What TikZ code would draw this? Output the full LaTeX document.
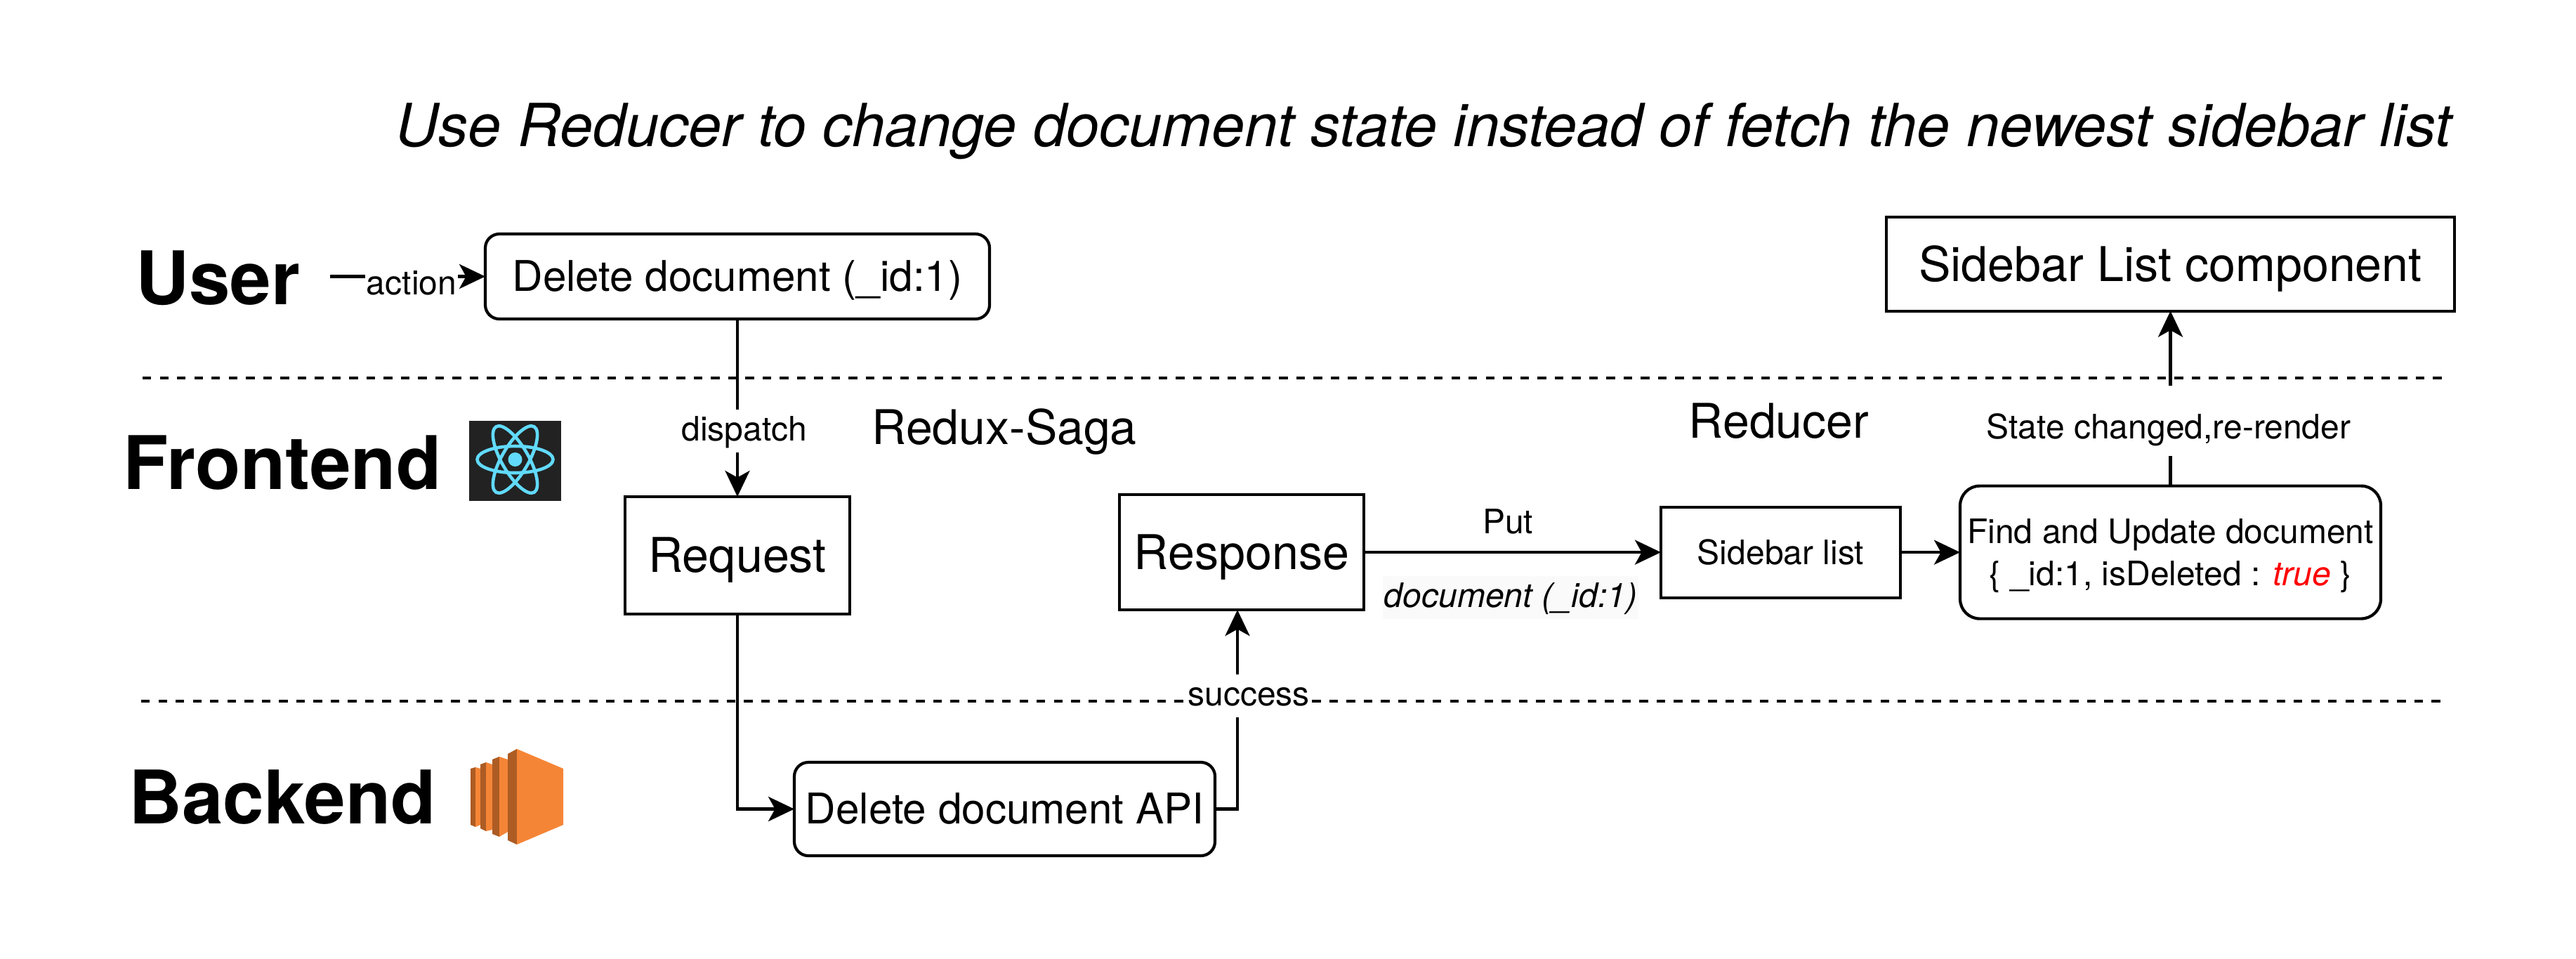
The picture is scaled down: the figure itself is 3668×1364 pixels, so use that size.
\documentclass[tikz,border=0pt]{standalone}
\usepackage{fontspec}
\setmainfont{TeX Gyre Heros}
\usepackage{xcolor}
\usetikzlibrary{arrows.meta,positioning,calc}
\definecolor{ReactBg}{HTML}{222222}
\definecolor{ReactFg}{HTML}{61DAFB}
\definecolor{AwsFace}{HTML}{F58536}
\definecolor{AwsSide}{HTML}{AD5C24}
\tikzset{
  box/.style={draw=black,line width=1.05pt,outer sep=0pt,inner sep=0pt,align=center,text depth=0pt,fill=white},
  rbox/.style={box,rounded corners=5pt},
  big/.style={font=\fontsize{17.05}{20}\selectfont,text height=12.2pt},
  mid/.style={font=\fontsize{15.05}{18}\selectfont,text height=10.7pt},
  small/.style={font=\fontsize{12}{15}\selectfont,text height=8.6pt},
  lab/.style={font=\fontsize{12}{14}\selectfont,fill=white,inner xsep=0.5pt,inner ysep=1.5pt,anchor=base,text height=9.5pt,text depth=2.75pt},
  layer/.style={font=\fontsize{26.3}{30}\selectfont\bfseries,anchor=base},
  head/.style={font=\fontsize{17}{20}\selectfont,anchor=base},
  sep/.style={line width=1pt,dash pattern=on 3.1pt off 3.03pt},
  arr/.style={-{Stealth[length=9.25pt,width=8.75pt,inset=2.4pt]},line width=1.05pt},
}

\begin{document}
\begin{tikzpicture}[x=0.25pt,y=-0.25pt]
  \useasboundingbox (0,0) rectangle (3668,1364);

  \node[font=\fontsize{21.15}{26}\selectfont\itshape, anchor=base] (title) at (2027,208)
    {Use Reducer to change document state instead of fetch the newest sidebar list};

  % --- layers ---
  \node[layer] (user) at (310,433) {User};
  \node[layer] (frontend) at (402,696) {Frontend};
  \node[layer] (backend) at (402,1172) {Backend};

  \coordinate (sepAL) at (203,538);
  \coordinate (sepAR) at (3478,538);
  \coordinate (sepBL) at (201,998);
  \coordinate (sepBR) at (3478,998);
  \draw[sep] (sepAL) -- (sepAR);
  \draw[sep] (sepBL) -- (sepBR);

  % react logo
  \fill[ReactBg] (668,599) rectangle (799,713);
  \foreach \ang in {0,60,120}
    \draw[ReactFg,line width=1.15pt,rotate around={\ang:(733.5,654)}] (733.5,654) ellipse [x radius=54, y radius=19];
  \fill[ReactFg] (733.5,654) circle [radius=10];

  % ec2 logo
  \fill[AwsSide] (670,1094) -- (677,1092) -- (677,1177) -- (670,1174) -- cycle;
  \fill[AwsFace] (677,1092) -- (684,1094) -- (684,1174) -- (677,1177) -- cycle;
  \fill[AwsSide] (684,1088) -- (692,1085) -- (692,1183) -- (684,1179) -- cycle;
  \fill[AwsFace] (692,1085) -- (701,1088) -- (701,1181) -- (692,1183) -- cycle;
  \fill[AwsSide] (701,1081) -- (711,1077) -- (711,1191) -- (701,1187) -- cycle;
  \fill[AwsFace] (711,1077) -- (723,1081) -- (723,1184) -- (711,1191) -- cycle;
  \fill[AwsSide] (723,1073) -- (736,1066) -- (736,1202) -- (723,1196) -- cycle;
  \fill[AwsFace] (736,1066) -- (802,1094) -- (802,1174) -- (736,1202) -- cycle;

  % --- boxes ---
  \node[rbox, mid, minimum width=179.5pt, minimum height=30.25pt] (delete) at (1050,393.5) {Delete document (\_id:1)};
  \node[box, big, minimum width=80pt, minimum height=41.75pt, below=63.25pt of delete] (request) {Request};
  \node[box, big, minimum width=87pt, minimum height=41pt, right=96pt of request, yshift=1.1pt] (response) {Response};
  \node[box, small, minimum width=85.25pt, minimum height=32.25pt, right=105.75pt of response] (sidebar) {Sidebar list};
  \node[rbox, rounded corners=7pt, minimum width=149.75pt, minimum height=47.25pt, right=21.25pt of sidebar,
        font=\fontsize{12}{15}\selectfont] (find) {Find and Update document\\\{ \_id:1, isDeleted : \textcolor{red}{\textit{true}} \}};
  \node[box, big, minimum width=202.25pt, minimum height=33.5pt, above=62.25pt of find] (component) {Sidebar List component};
  \node[rbox, mid, minimum width=149.75pt, minimum height=33.25pt] (api) at (1430.5,1151.5) {Delete document API};

  \node[head] (saga) at (1430,632) {Redux-Saga};
  \node[head] (reducer) at (2533,623) {Reducer};

  % --- connectors ---
  \coordinate (actFrom) at (470,393.5);
  \coordinate (okTo) at ($(response.south)+(-6,0)$);
  \draw[arr] (actFrom) -- (delete);
  \draw[arr] (delete) -- (request);
  \draw[arr] (request.south) |- (api.west);
  \draw[arr] (api.east) -| (okTo);
  \draw[arr] (response) -- (sidebar);
  \draw[arr] (sidebar) -- (find);
  \draw[arr] (find) -- (component);

  % --- labels ---
  \node[lab] (action) at (586,419) {action};
  \node[lab] (dispatch) at (1060,627) {dispatch};
  \node[lab] (success) at (1778,1004) {success};
  \node[font=\fontsize{12}{14}\selectfont, anchor=base] (put) at (2147,759) {Put};
  \node[lab, fill=black!2, font=\fontsize{12}{14}\selectfont\itshape] (doc) at (2151,864) {document (\_id:1)};
  \node[lab, text height=17.25pt, text depth=4.75pt] (state) at (3088,624) {State changed,re-render};
\end{tikzpicture}
\end{document}
